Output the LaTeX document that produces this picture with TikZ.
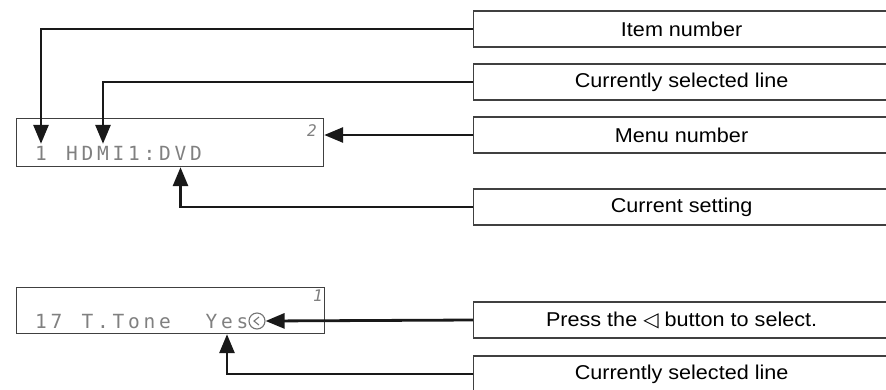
\documentclass[tikz,border=0pt]{standalone}
\usepackage{fontspec}
\setmainfont{Liberation Sans}[FakeStretch=1.08]
\newfontfamily\lcdfont{DejaVu Sans Mono}
\newfontfamily\symfont{DejaVu Sans}
\usetikzlibrary{arrows.meta}

\tikzset{
    callout/.style={draw=black!75, line width=1.2pt, anchor=west, inner sep=0pt,
        minimum width=416pt, minimum height=36pt, font=\fontsize{20}{20}\selectfont},
    lcdpanel/.style={draw=black!75, line width=1.2pt, anchor=north west, inner sep=0pt},
    lcdchar/.style={font=\lcdfont\fontsize{19.5}{19.5}\selectfont, text=black!50, anchor=base,
        inner sep=2pt, text height=14pt, text depth=0pt},
    lcdmenu/.style={font=\lcdfont\itshape\fontsize{16}{16}\selectfont, text=black!50, inner sep=0pt},
    pointer/.style={line width=2.8pt, draw=black!90, -{Triangle[length=19pt,width=15pt]}},
}

\begin{document}
\begin{tikzpicture}[x=1pt, y=-1pt]

        % Define parameters
        \def\pitch{15.5}   % Character pitch on the display
        \def\lcdx{41}      % Centre of the first character

        \useasboundingbox (0,0) rectangle (886,389);
        \clip (0,0) rectangle (886,389);

        % Upper display
        \node[lcdpanel, minimum width=307pt, minimum height=48pt] (lcd1) at (16,118) {};
        \foreach \ch [count=\i from 0] in {1,{},H,D,M,I,1,:,D,V,D} {
            \node[lcdchar] (lcdA-\i) at ({\lcdx+\i*\pitch},160) {\ch};
        }
        \node[lcdmenu] (mnum1) at (312,131) {2};

        % Lower display
        \node[lcdpanel, minimum width=308pt, minimum height=46pt] (lcd2) at (16,287) {};
        \foreach \ch [count=\i from 0] in {1,7,{},T,.,T,o,n,e,{},{},Y,e,s} {
            \node[lcdchar] (lcdB-\i) at ({\lcdx+\i*\pitch},328) {\ch};
        }
        \node[circle, draw=black!55, line width=1.1pt, minimum size=16pt, inner sep=0pt] (sel) at (257,321) {};
        \draw[black!55, line width=1.1pt] ([shift={(2pt,4pt)}]sel.center) -- ([xshift=-3pt]sel.center)
            -- ([shift={(2pt,-4pt)}]sel.center);
        \node[lcdmenu] (mnum2) at (318,296) {1};

        % Callout boxes
        \node[callout] (item)    at (473,29)  {Item number};
        \node[callout] (line1)   at (473,82)  {Currently selected line};
        \node[callout] (menu)    at (473,135) {Menu number};
        \node[callout] (setting) at (473,207) {Current setting};
        \node[callout] (press)   at (473,320) {Press the {\symfont ◁} button to select.};
        \node[callout] (line2)   at (473,374) {Currently selected line};

        % Pointers into the displays
        \draw[pointer] (item.west) -| (lcdA-0.north);
        \draw[pointer] (line1.west) -| (lcdA-4.north);
        \draw[pointer] (menu.west) -- (menu.west -| lcd1.east);
        \draw[pointer] (setting.west) -| (lcdA-9 |- lcd1.south);
        \draw[pointer] (press.west) -- (sel.east);
        \draw[pointer] (line2.west) -| (lcdB-12 |- lcd2.south);

    \end{tikzpicture}
\end{document}
